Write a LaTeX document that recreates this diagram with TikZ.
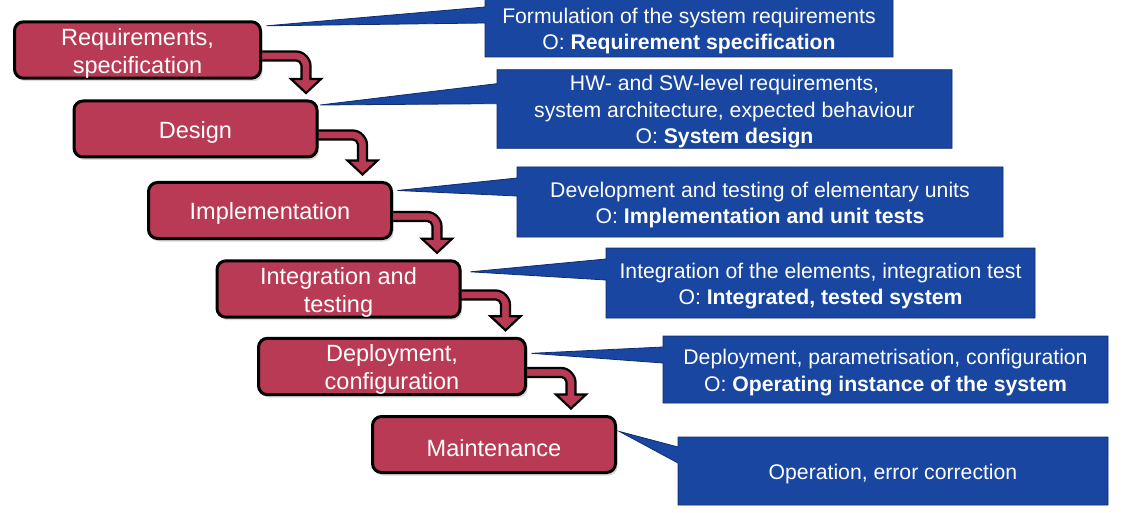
\documentclass[tikz,border=0pt]{standalone}
\usepackage{fontspec}
\setmainfont{Liberation Sans}
\usetikzlibrary{calc,backgrounds,shadows}
\definecolor{StepRed}{RGB}{185,58,84}
\definecolor{NoteBlue}{RGB}{24,70,160}
\definecolor{NoteEdge}{RGB}{15,45,110}

% pushes the text of a box a little down
\newcommand{\lift}{\rule{0pt}{1em}}
% bent arrow from the right side of one step down onto the next one
\newcommand{\stairarrow}[2]{%
  \filldraw[stairs] let \p1=(#1.east), \p2=(#2.north) in
    (\x1-4pt,\y1-1.5pt) -- (\x1+34.5pt,\y1-1.5pt)
    .. controls (\x1+42.2pt,\y1-1.5pt) and (\x1+48.5pt,\y1-9.2pt) .. (\x1+48.5pt,\y1-15.5pt)
    -- (\x1+48.5pt,\y2+20.5pt) -- (\x1+59pt,\y2+20.5pt) -- (\x1+44pt,\y2+6.5pt)
    -- (\x1+29pt,\y2+20.5pt) -- (\x1+39.5pt,\y2+20.5pt) -- (\x1+39.5pt,\y1-15.5pt)
    .. controls (\x1+39.5pt,\y1-12.7pt) and (\x1+36.7pt,\y1-10.5pt) .. (\x1+34.5pt,\y1-10.5pt)
    -- (\x1-4pt,\y1-10.5pt) -- cycle;}
% speech-bubble box: step, note, tip shift x/y, wedge top/bottom below the note top
\newcommand{\callout}[6]{%
  \filldraw[notebox] (#2.north west) -- ($(#2.north west)+(0,#5)$)
    -- ($(#1.north east)+(#3,#4)$) -- ($(#2.north west)+(0,#6)$)
    -- (#2.south west) -- (#2.south east) -- (#2.north east) -- cycle;}

\begin{document}
\begin{tikzpicture}[x=1pt,y=-1pt,
  stepbox/.style={draw=black,line width=3pt,rounded corners=9pt,fill=StepRed,
                  text=white,font=\fontsize{23.5}{28}\selectfont,align=center,
                  minimum width=243pt,minimum height=56pt,inner sep=0pt,
                  drop shadow={shadow xshift=2pt,shadow yshift=-3pt,opacity=0.3}},
  notetext/.style={text=white,font=\fontsize{21.2}{26.5}\selectfont,
                   align=center,inner sep=0pt,outer sep=0pt},
  notebox/.style={fill=NoteBlue,draw=NoteEdge,line width=0.8pt},
  stairs/.style={fill=StepRed,draw=black,line width=2.2pt,line join=miter},
]
\useasboundingbox (0,0) rectangle (1126,513);

% the steps
\node[stepbox,minimum width=246pt] (req) at (137.5,50) {\lift Requirements,\\specification};
\node[stepbox] (des) at (195.5,129) {\lift Design};
\node[stepbox] (imp) at (270,210.5) {\lift Implementation};
\node[stepbox] (int) at (338.5,289) {\lift Integration and\\testing};
\node[stepbox,minimum width=267pt] (dep) at (392,366.5) {\lift Deployment,\\configuration};
\node[stepbox] (mnt) at (494,444.5) {\lift Maintenance};

% the notes
\node[notetext,minimum width=408pt,minimum height=58pt] (reqn) at (689,28)
  {\lift Formulation of the system requirements\\O: \textbf{Requirement specification}};
\node[notetext,minimum width=455pt,minimum height=78pt] (desn) at (724.5,109)
  {\lift HW- and SW-level requirements,\\system architecture, expected behaviour\\O: \textbf{System design}};
\node[notetext,minimum width=486pt,minimum height=70pt] (impn) at (760,202)
  {\lift Development and testing of elementary units\\O: \textbf{Implementation and unit tests}};
\node[notetext,minimum width=429pt,minimum height=70pt] (intn) at (820.5,283)
  {\lift Integration of the elements, integration test\\O: \textbf{Integrated, tested system}};
\node[notetext,minimum width=445pt,minimum height=67pt] (depn) at (885.5,369.5)
  {\lift Deployment, parametrisation, configuration\\O: \textbf{Operating instance of the system}};
\node[notetext,minimum width=430pt,minimum height=68pt] (mntn) at (893,471)
  {\lift Operation, error correction};

\begin{scope}[on background layer]
  \stairarrow{req}{des}
  \stairarrow{des}{imp}
  \stairarrow{imp}{int}
  \stairarrow{int}{dep}
  \stairarrow{dep}{mnt}
  \callout{req}{reqn}{4.5}{5.5}{8}{24}
  \callout{des}{desn}{1.5}{5.5}{14}{34}
  \callout{imp}{impn}{4.5}{9.5}{11}{29}
  \callout{int}{intn}{9}{12.5}{11}{32}
  \callout{dep}{depn}{4.5}{16.5}{11}{27}
  \callout{mnt}{mntn}{2.5}{16.5}{10}{26}
\end{scope}
\end{tikzpicture}
\end{document}
